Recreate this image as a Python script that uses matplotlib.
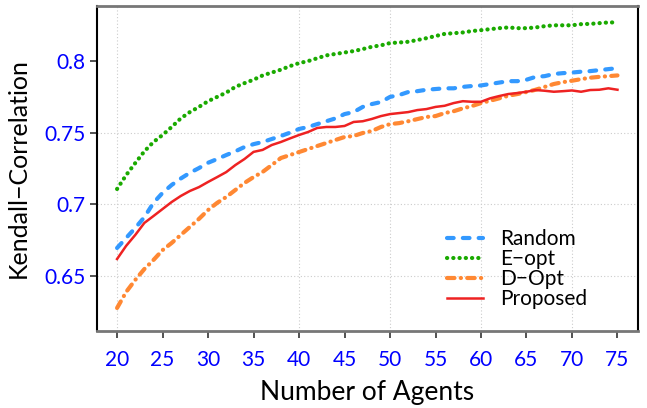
import numpy as np
import matplotlib
matplotlib.use('Agg')
from matplotlib import pyplot as plt

agents = np.arange(20, 76)

random_sel = [0.6695, 0.6765, 0.6835, 0.691, 0.701, 0.708, 0.7135, 0.718, 0.722, 0.7253,
              0.729, 0.7316, 0.7344, 0.737, 0.740, 0.742, 0.7435, 0.7456, 0.7477, 0.750,
              0.7526, 0.754, 0.756, 0.758, 0.760, 0.763, 0.7644, 0.768, 0.770, 0.7714,
              0.775, 0.7763, 0.7784, 0.779, 0.780, 0.7805, 0.781, 0.781, 0.782, 0.7826,
              0.783, 0.784, 0.785, 0.786, 0.786, 0.787, 0.789, 0.7895, 0.791, 0.7916,
              0.792, 0.7926, 0.793, 0.7937, 0.7944, 0.7951]
e_opt = [0.7107, 0.7204, 0.7288, 0.737, 0.7435, 0.7484, 0.754, 0.760, 0.7644, 0.768,
         0.772, 0.775, 0.778, 0.782, 0.7846, 0.787, 0.790, 0.792, 0.794, 0.7965,
         0.7986, 0.800, 0.802, 0.804, 0.805, 0.806, 0.807, 0.8084, 0.810, 0.811,
         0.8126, 0.813, 0.8135, 0.8147, 0.816, 0.8175, 0.819, 0.8195, 0.820, 0.821,
         0.8216, 0.8223, 0.823, 0.8235, 0.823, 0.823, 0.8235, 0.8244, 0.825, 0.825,
         0.825, 0.8258, 0.826, 0.8265, 0.827, 0.827]
d_opt = [0.6276, 0.6388, 0.6472, 0.6548, 0.6611, 0.668, 0.673, 0.6786, 0.6842, 0.6898,
         0.696, 0.701, 0.7051, 0.710, 0.7149, 0.719, 0.7226, 0.7274, 0.7323, 0.7344,
         0.7365, 0.7386, 0.7407, 0.7428, 0.7449, 0.747, 0.7477, 0.7498, 0.7512, 0.754,
         0.756, 0.7567, 0.758, 0.7595, 0.761, 0.7616, 0.7637, 0.765, 0.767, 0.7686,
         0.7707, 0.7723, 0.774, 0.7758, 0.777, 0.7784, 0.780, 0.782, 0.784, 0.7853,
         0.7863, 0.7874, 0.7884, 0.789, 0.7895, 0.790]
proposed = [0.6618, 0.671, 0.6786, 0.687, 0.6918, 0.6967, 0.7016, 0.7058, 0.7093, 0.712,
            0.7156, 0.719, 0.7225, 0.7274, 0.7316, 0.7366, 0.738, 0.7414, 0.7435, 0.746,
            0.7484, 0.7505, 0.7533, 0.754, 0.754, 0.7547, 0.7575, 0.758, 0.7596, 0.7616,
            0.763, 0.7637, 0.7644, 0.7658, 0.7665, 0.768, 0.7688, 0.7707, 0.772, 0.7716,
            0.7716, 0.774, 0.7756, 0.777, 0.7777, 0.7786, 0.7798, 0.7793, 0.7786, 0.779,
            0.7795, 0.7786, 0.7798, 0.780, 0.781, 0.780]

x_ticks = np.arange(20, 80, 5)
y_ticks = [0.65, 0.7, 0.75, 0.8]
y_ticklabels = ['0.65', '0.7', '0.75', '0.8']

plt.rcParams['font.family'] = ['Lato', 'DejaVu Sans']

fig = plt.figure(figsize=(6.47, 4.08), dpi=100)
ax = fig.add_axes([0.150, 0.189, 0.836, 0.796])

# partial grid as in the original
for gx in [20, 40, 50, 60, 70]:
    ax.axvline(gx, color='#cccccc', lw=0.8, ls=(0, (1, 2)), zorder=0)
for gy in [0.65, 0.7, 0.75]:
    ax.axhline(gy, color='#cccccc', lw=0.8, ls=(0, (1, 2)), zorder=0)

ax.plot(agents, random_sel, color='#3399ff', lw=3, ls=(0, (1.6, 2.2)),
        dash_capstyle='round', label='Random')
ax.plot(agents, e_opt, color='#1aaa00', lw=3, ls=(0, (0.05, 1.45)),
        dash_capstyle='round', label='E\u2212opt')
ax.plot(agents, d_opt, color='#ff8833', lw=3, ls=(0, (1.8, 1.5, 0.05, 1.5)),
        dash_capstyle='round', label='D\u2212Opt')
ax.plot(agents, proposed, color='#ee2222', lw=1.8, label='Proposed')

ax.set_xlim(17.8, 77.25)
ax.set_ylim(0.6116, 0.8384)
ax.set_xticks(x_ticks)
ax.set_yticks(y_ticks)
ax.set_yticklabels(y_ticklabels)
ax.tick_params(axis='both', direction='out', length=5, width=1.2,
               labelsize=15, labelcolor='#0000ff', color='#333333')
ax.tick_params(axis='x', pad=9)

ax.spines['top'].set_color('#777777')
ax.spines['top'].set_linewidth(2)
ax.spines['bottom'].set_color('#777777')
ax.spines['bottom'].set_linewidth(2)
ax.spines['left'].set_linewidth(1.5)
ax.spines['right'].set_linewidth(1.5)

ax.set_xlabel('Number of Agents', fontsize=19, labelpad=7)
ax.set_ylabel('Kendall\u2212Correlation', fontsize=18, labelpad=10)

ax.legend(loc='lower left', bbox_to_anchor=(0.627, 0.035), frameon=False,
          borderpad=0, fontsize=15, handlelength=1.75, labelspacing=0.0,
          handletextpad=0.8)

fig.savefig('out.png', dpi=100)
